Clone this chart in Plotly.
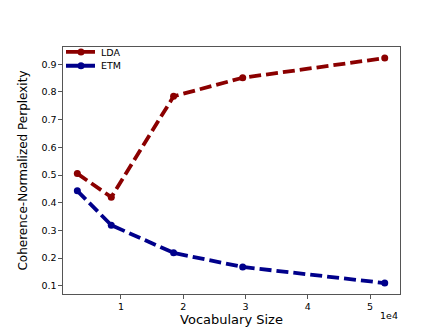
import plotly.graph_objects as go

# Values
vocab_sizes = [3000, 8450, 18450, 29550, 52350]
lda_values = [0.505, 0.42, 0.784, 0.851, 0.922]
etm_values = [0.443, 0.319, 0.219, 0.168, 0.11]
x_tick_vals = [10000, 20000, 30000, 40000, 50000]
x_tick_text = ["1", "2", "3", "4", "5"]
y_tick_vals = [0.1, 0.2, 0.3, 0.4, 0.5, 0.6, 0.7, 0.8, 0.9]

FONT = "DejaVu Sans"

fig = go.Figure()
fig.add_trace(go.Scatter(x=vocab_sizes, y=lda_values, name="LDA",
                         mode="lines+markers", legend="legend", showlegend=True,
                         line=dict(color="#8B0000", width=3.8, dash="12px,5px"),
                         marker=dict(color="#8B0000", size=7)))
fig.add_trace(go.Scatter(x=vocab_sizes, y=etm_values, name="ETM",
                         mode="lines+markers", legend="legend2", showlegend=True,
                         line=dict(color="#00008B", width=3.8, dash="12px,5px"),
                         marker=dict(color="#00008B", size=7)))

axis_style = dict(showgrid=False, zeroline=False, showline=True, mirror=True,
                  linecolor="#555555", linewidth=1.2,
                  ticks="outside", ticklen=3.5, tickcolor="#555555",
                  tickfont=dict(family=FONT, size=9.5, color="black"))

# one legend per trace so the rows can sit closer than plotly's minimum row height
legend_style = dict(x=-0.006, xanchor="left", yanchor="middle",
                    bgcolor="rgba(255,255,255,0)", visible=True,
                    font=dict(family=FONT, size=9.5), itemwidth=30)

fig.update_layout(width=436, height=327, showlegend=True,
                  paper_bgcolor="white", plot_bgcolor="white",
                  margin=dict(l=55, r=44, t=39, b=37),
                  font=dict(family=FONT, color="black"),
                  xaxis=dict(range=[700, 54800], tickvals=x_tick_vals, ticktext=x_tick_text,
                             title=dict(text="Vocabulary Size", font=dict(size=13), standoff=2),
                             **axis_style),
                  yaxis=dict(range=[0.0705, 0.962], tickvals=y_tick_vals,
                             title=dict(text="Coherence-Normalized Perplexity", font=dict(size=12), standoff=11),
                             **axis_style),
                  legend=dict(y=0.98, **legend_style),
                  legend2=dict(y=0.924, **legend_style))

# Offset text for the x axis scale
fig.add_annotation(text="1e4", xref="paper", yref="paper", x=1.0, y=-0.055,
                   xanchor="right", yanchor="top", showarrow=False,
                   font=dict(family=FONT, size=9.5, color="black"))

fig.write_html("out.html")
